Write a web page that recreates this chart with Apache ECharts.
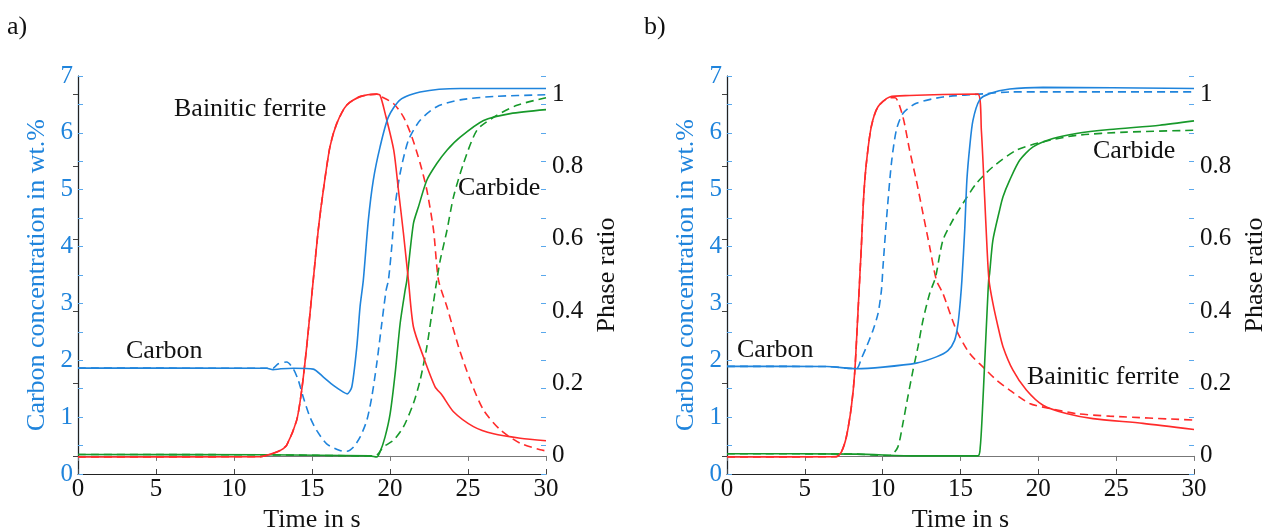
<!DOCTYPE html>
<html>
<head>
<meta charset="utf-8">
<script src="https://cdn.jsdelivr.net/npm/echarts@6/dist/echarts.min.js"></script>
<style>
html,body{margin:0;padding:0;background:#fff;}
#main{width:1268px;height:527px;}
</style>
</head>
<body>
<div id="main"></div>
<script>
// ---------- data (time in s, value) ----------
const xTicks = [0, 5, 10, 15, 20, 25, 30];
const carbonTicks = [0, 1, 2, 3, 4, 5, 6, 7];
const phaseTicks = [0, 0.2, 0.4, 0.6, 0.8, 1];

// panel a) carbon concentration (wt.%)
const aCarbonSolid = [[0,1.863],[12.1,1.86],[12.5,1.835],[13.0,1.85],[13.8,1.86],[15.08,1.845],[15.73,1.705],[16.37,1.558],[17.01,1.44],[17.26,1.41],[17.55,1.53],[17.87,2.23],[18.08,2.94],[18.29,3.41],[18.61,4.46],[18.93,5.17],[19.36,5.75],[19.9,6.28],[20.65,6.58],[21.93,6.72],[24.5,6.78],[30,6.78]];
const aCarbonDashed = [[0,1.863],[12.1,1.86],[12.5,1.86],[12.84,1.94],[13.38,1.97],[13.8,1.85],[14.12,1.65],[14.44,1.35],[14.87,1.0],[15.3,0.766],[15.94,0.53],[16.79,0.414],[17.23,0.40],[17.65,0.47],[18.08,0.648],[18.51,0.94],[18.83,1.35],[19.15,1.94],[19.47,2.64],[19.75,3.23],[19.9,3.41],[20.11,3.99],[20.32,4.7],[20.65,5.29],[21.18,5.87],[21.93,6.22],[23.0,6.46],[24.5,6.58],[26.64,6.64],[30,6.67]];
// panel a) phase ratios
const aFerriteSolid = [[0,-0.003],[11.7,-0.002],[12.52,0.0075],[13.0,0.016],[13.38,0.03],[14.02,0.099],[14.34,0.182],[14.66,0.302],[15.08,0.486],[15.4,0.624],[15.73,0.735],[16.15,0.854],[16.59,0.919],[17.23,0.97],[18.08,0.993],[19.15,1.0],[19.36,0.997],[19.68,0.948],[20.24,0.845],[20.54,0.735],[20.86,0.616],[21.18,0.486],[21.5,0.357],[22.14,0.274],[22.89,0.191],[23.32,0.169],[24.07,0.122],[25.35,0.081],[26.64,0.061],[28.35,0.049],[30,0.042]];
const aFerriteDashed = [[0,-0.003],[11.7,-0.002],[12.52,0.0075],[13.0,0.016],[13.38,0.03],[14.02,0.099],[14.34,0.182],[14.66,0.302],[15.08,0.486],[15.4,0.624],[15.73,0.735],[16.15,0.854],[16.59,0.919],[17.23,0.97],[18.08,0.993],[19.15,1.0],[19.26,0.997],[20.22,0.974],[20.86,0.937],[21.4,0.882],[21.93,0.809],[22.36,0.735],[22.79,0.624],[23.11,0.486],[23.65,0.412],[24.39,0.302],[25.14,0.21],[25.99,0.127],[27.07,0.072],[28.35,0.035],[29.63,0.017],[30,0.014]];
const aCarbideSolid = [[0,0.004],[12,0.003],[18.72,0],[19.15,-0.003],[19.36,0.011],[19.68,0.052],[20.01,0.117],[20.33,0.228],[20.65,0.366],[20.97,0.458],[21.08,0.485],[21.5,0.642],[21.82,0.688],[22.36,0.762],[23.0,0.808],[23.65,0.845],[24.5,0.881],[26.0,0.927],[27.71,0.946],[30,0.957]];
const aCarbideDashed = [[0,0.004],[12,0.003],[18.72,0],[19.15,0.002],[19.58,0.025],[20.22,0.043],[20.86,0.08],[21.5,0.145],[21.93,0.209],[22.36,0.301],[22.68,0.393],[23.0,0.485],[23.22,0.541],[23.65,0.623],[24.07,0.716],[24.71,0.808],[25.57,0.9],[26.64,0.936],[28.14,0.969],[30,0.99]];

// panel b) carbon concentration (wt.%)
const bCarbonSolid = [[0,1.893],[6.4,1.89],[8.31,1.852],[10.02,1.88],[12.16,1.95],[13.45,2.06],[14.19,2.17],[14.62,2.35],[14.84,2.64],[14.99,3.05],[15.09,3.41],[15.27,4.29],[15.41,5.17],[15.59,5.75],[15.8,6.22],[16.23,6.58],[16.87,6.69],[18.16,6.77],[20.3,6.8],[30,6.78]];
const bCarbonDashed = [[0,1.893],[6.4,1.89],[8.31,1.852],[8.63,2.03],[8.95,2.23],[9.38,2.53],[9.7,2.82],[9.92,3.23],[10.02,3.64],[10.24,4.46],[10.56,5.46],[10.88,6.05],[11.3,6.34],[12.16,6.52],[13.87,6.63],[16.66,6.69],[18.16,6.72],[30,6.72]];
// panel b) phase ratios
const bFerriteSolid = [[0,-0.003],[7.03,-0.002],[7.35,0.011],[7.67,0.053],[7.99,0.136],[8.2,0.228],[8.41,0.394],[8.52,0.486],[8.63,0.578],[8.78,0.716],[8.95,0.808],[9.27,0.91],[9.7,0.965],[10.45,0.992],[11.73,0.996],[13.87,0.999],[16.12,1.0],[16.34,0.9],[16.55,0.716],[16.7,0.578],[16.83,0.486],[17.08,0.422],[17.41,0.357],[17.73,0.302],[18.37,0.237],[19.23,0.182],[20.3,0.14],[21.8,0.117],[23.51,0.103],[26.72,0.09],[30,0.073]];
const bFerriteDashed = [[0,-0.003],[7.03,-0.002],[7.35,0.011],[7.67,0.053],[7.99,0.136],[8.2,0.228],[8.41,0.394],[8.52,0.486],[8.63,0.578],[8.78,0.716],[8.95,0.808],[9.27,0.91],[9.7,0.965],[10.45,0.99],[10.8,0.99],[11.3,0.937],[11.73,0.845],[12.16,0.762],[12.59,0.67],[13.02,0.578],[13.45,0.486],[13.87,0.449],[14.73,0.348],[15.59,0.283],[16.44,0.246],[17.3,0.21],[18.16,0.182],[19.44,0.145],[20.73,0.131],[22.44,0.117],[24.58,0.11],[30,0.099]];
const bCarbideSolid = [[0,0.006],[8.3,0.005],[12.16,0],[16.12,0],[16.27,0.025],[16.4,0.117],[16.55,0.255],[16.7,0.393],[16.81,0.486],[16.87,0.504],[17.08,0.596],[17.51,0.679],[17.73,0.716],[18.16,0.762],[18.8,0.817],[19.66,0.854],[20.94,0.877],[22.44,0.891],[24.58,0.902],[27.79,0.914],[30,0.926]];
const bCarbideDashed = [[0,0.006],[8.3,0.005],[10.3,0.001],[10.56,0.002],[10.98,0.025],[11.3,0.09],[11.62,0.164],[11.95,0.237],[12.27,0.302],[12.59,0.375],[13.02,0.449],[13.34,0.486],[13.45,0.504],[13.87,0.596],[14.51,0.652],[15.16,0.698],[16.02,0.753],[17.08,0.799],[18.59,0.845],[20.3,0.868],[22.44,0.886],[25.65,0.895],[30,0.9]];

// ---------- styling ----------
const FONT = '"Liberation Serif", "Times New Roman", serif';
const BLUE = '#1f84dc';
const RED = '#ff2b2b';
const GREEN = '#17992a';
const TXT = '#111';

const grids = [
  {left: 78, top: 76, width: 468, height: 398, outerBoundsMode: 'none', containLabel: false},
  {left: 727, top: 76, width: 467, height: 398, outerBoundsMode: 'none', containLabel: false}
];

function xAxes(gi) {
  return [
    {
      gridIndex: gi, type: 'value', min: 0, max: 30, interval: 5, position: 'bottom',
      axisLine: {show: true, lineStyle: {color: '#222', width: 1.2}},
      axisTick: {inside: true, length: 5, lineStyle: {color: '#444'}},
      axisLabel: {fontFamily: FONT, fontSize: 25, color: TXT, margin: 3},
      splitLine: {show: false},
      name: 'Time in s', nameLocation: 'middle', nameGap: 25,
      nameTextStyle: {fontFamily: FONT, fontSize: 26, color: TXT}
    },
    {
      gridIndex: gi, type: 'value', min: 0, max: 30, interval: 5, position: 'top',
      axisLine: {show: true, lineStyle: {color: '#777', width: 1.2}},
      axisTick: {inside: true, length: 5, lineStyle: {color: '#777'}},
      axisLabel: {show: false}, splitLine: {show: false}
    }
  ];
}

function yAxes(gi) {
  return [
    {
      gridIndex: gi, type: 'value', min: 0, max: 7, interval: 0.5, position: 'left',
      axisLine: {show: true, lineStyle: {color: '#5aa8ec', width: 1.2}},
      axisTick: {inside: true, length: 5, lineStyle: {color: '#5aa8ec'}},
      axisLabel: {
        fontFamily: FONT, fontSize: 25, color: BLUE, margin: 5,
        formatter: v => (carbonTicks.indexOf(v) >= 0 ? String(v) : '')
      },
      splitLine: {show: false},
      name: 'Carbon concentration in wt.%', nameLocation: 'middle', nameGap: 28, nameRotate: 90,
      nameTextStyle: {fontFamily: FONT, fontSize: 26, color: BLUE}
    },
    {
      gridIndex: gi, type: 'value', min: -0.05, max: 1.05, position: 'right', offset: 0,
      axisLine: {show: true, lineStyle: {color: '#222', width: 1.2}},
      axisTick: {inside: true, length: 5, lineStyle: {color: '#444'}, customValues: phaseTicks},
      axisLabel: {
        fontFamily: FONT, fontSize: 25, color: TXT, margin: 6, customValues: phaseTicks,
        formatter: v => String(Math.round(v * 10) / 10)
      },
      splitLine: {show: false},
      name: 'Phase ratio', nameLocation: 'middle', nameGap: 48, nameRotate: 90,
      nameTextStyle: {fontFamily: FONT, fontSize: 26, color: TXT}
    },
    {
      gridIndex: gi, type: 'value', min: 0, max: 7, interval: 0.5, position: 'right', offset: 0,
      axisLine: {show: false},
      axisTick: {inside: true, length: 5, lineStyle: {color: '#5aa8ec'}},
      axisLabel: {show: false}, splitLine: {show: false}
    }
  ];
}

function line(data, color, dashed, gi, yIdx, z) {
  return {
    type: 'line', data: data, xAxisIndex: gi * 2, yAxisIndex: gi * 3 + yIdx,
    showSymbol: false, symbol: 'none', smooth: 0.25,
    lineStyle: {color: color, width: 1.6, type: dashed ? [8, 5] : 'solid'},
    z: z, animation: false, silent: true
  };
}

const series = [
  line(aFerriteDashed, RED, true, 0, 1, 2),
  line(aCarbideDashed, GREEN, true, 0, 1, 2),
  line(aCarbonDashed, BLUE, true, 0, 0, 2),
  line(aCarbideSolid, GREEN, false, 0, 1, 3),
  line(aFerriteSolid, RED, false, 0, 1, 3),
  line(aCarbonSolid, BLUE, false, 0, 0, 4),

  line(bFerriteDashed, RED, true, 1, 1, 2),
  line(bCarbideDashed, GREEN, true, 1, 1, 2),
  line(bCarbonDashed, BLUE, true, 1, 0, 2),
  line(bCarbideSolid, GREEN, false, 1, 1, 3),
  line(bFerriteSolid, RED, false, 1, 1, 3),
  line(bCarbonSolid, BLUE, false, 1, 0, 4)
];

function txt(x, y, s, align) {
  return {
    type: 'text', left: x, top: y, z: 10,
    style: {text: s, fontFamily: FONT, fontSize: 26, fill: TXT, textAlign: align || 'left'}
  };
}

const option = {
  backgroundColor: '#fff',
  animation: false,
  textStyle: {fontFamily: FONT},
  grid: grids,
  xAxis: [...xAxes(0), ...xAxes(1)],
  yAxis: [...yAxes(0), ...yAxes(1)],
  series: series,
  graphic: [
    txt(7, 14, 'a)'),
    txt(644, 14, 'b)'),
    txt(174, 96, 'Bainitic ferrite'),
    txt(458, 175, 'Carbide'),
    txt(126, 338, 'Carbon'),
    txt(737, 337, 'Carbon'),
    txt(1093, 138, 'Carbide'),
    txt(1027, 364, 'Bainitic ferrite')
  ]
};

const chart = echarts.init(document.getElementById('main'), null, {renderer: 'canvas'});
chart.setOption(option);
</script>
</body>
</html>
